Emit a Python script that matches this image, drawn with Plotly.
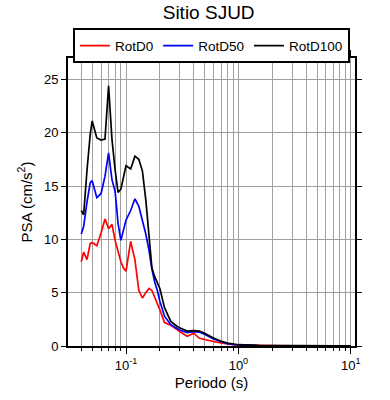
import plotly.graph_objects as go

periods = [0.04, 0.042, 0.045, 0.048, 0.05, 0.055, 0.06, 0.065, 0.07, 0.075,
           0.08, 0.085, 0.09, 0.095, 0.1, 0.11, 0.12, 0.13, 0.14, 0.15,
           0.16, 0.17, 0.18, 0.19, 0.2, 0.22, 0.25, 0.28, 0.3, 0.35,
           0.4, 0.45, 0.5, 0.6, 0.7, 0.8, 0.9, 1.0, 1.5, 2.0,
           3.0, 4.0, 5.0, 7.5, 10.0]

rotd0 = [7.9, 8.8, 8.1, 9.6, 9.7, 9.4, 10.6, 11.9, 11.0, 11.4,
         9.9, 8.8, 7.9, 7.3, 7.0, 9.8, 8.1, 5.2, 4.5, 5.0,
         5.4, 5.2, 4.6, 3.9, 3.4, 2.2, 1.95, 1.6, 1.35, 0.92,
         1.2, 0.72, 0.6, 0.42, 0.3, 0.18, 0.12, 0.08, 0.03, 0.02,
         0.012, 0.008, 0.006, 0.004, 0.003]

rotd50 = [10.5, 11.2, 13.5, 15.3, 15.5, 13.9, 14.3, 15.9, 18.1, 15.6,
          14.5, 11.5, 9.9, 11.0, 11.8, 12.7, 13.8, 13.1, 11.8, 10.5,
          9.0, 7.2, 6.0, 5.2, 4.2, 2.8, 2.0, 1.7, 1.5, 1.25,
          1.35, 1.3, 1.1, 0.65, 0.38, 0.22, 0.14, 0.1, 0.04, 0.025,
          0.015, 0.01, 0.008, 0.005, 0.003]

rotd100 = [12.7, 12.3, 16.5, 19.8, 21.1, 19.5, 19.3, 19.4, 24.4, 19.4,
           16.5, 14.4, 14.7, 15.8, 16.9, 16.6, 17.8, 17.5, 16.4, 13.7,
           10.2, 7.3, 6.5, 5.9, 5.4, 3.6, 2.3, 1.9, 1.7, 1.4,
           1.45, 1.4, 1.2, 0.75, 0.45, 0.28, 0.18, 0.12, 0.05, 0.03,
           0.018, 0.012, 0.009, 0.005, 0.003]

series = [("RotD0", rotd0, "#ff0000"),
          ("RotD50", rotd50, "#0000ff"),
          ("RotD100", rotd100, "#000000")]

xtick_vals = [0.1, 1, 10]
xtick_text = ["10<sup>-1</sup>", "10<sup>0</sup>", "10<sup>1</sup>"]
ytick_vals = [0, 5, 10, 15, 20, 25]

fig = go.Figure()
for name, vals, color in series:
    fig.add_trace(go.Scatter(x=periods, y=vals, mode="lines", name=name,
                             line=dict(color=color, width=1.7)))

font_family = "Liberation Sans, Arial, sans-serif"

fig.update_layout(
    width=390, height=400,
    margin=dict(l=68, r=35, t=58, b=54, autoexpand=False),
    paper_bgcolor="white", plot_bgcolor="white",
    font=dict(family=font_family, color="black", size=13),
    title=dict(text="Sitio SJUD", x=0.535, xanchor="center", y=0.985, yanchor="top",
               font=dict(size=19)),
    showlegend=True,
    legend=dict(orientation="h", x=0.017, xanchor="left", y=1.103, yanchor="top",
                bordercolor="black", borderwidth=2, bgcolor="white",
                font=dict(size=13.5), itemwidth=30, tracegroupgap=0),
)

fig.update_xaxes(
    type="log", range=[-1.516, 1.037], automargin=False,
    tickvals=xtick_vals, ticktext=xtick_text,
    ticks="outside", ticklen=6, tickwidth=1, tickcolor="black",
    showline=True, linecolor="black", linewidth=2, mirror="ticks",
    showgrid=True, gridcolor="#a0a0a0", gridwidth=1,
    minor=dict(ticks="outside", ticklen=3, tickcolor="black", showgrid=True,
               gridcolor="#a0a0a0", gridwidth=1, dtick="D1"),
    title=dict(text="Periodo (s)", font=dict(size=15), standoff=6),
    tickfont=dict(size=13), zeroline=False,
)

fig.update_yaxes(
    range=[0, 27], tickvals=ytick_vals, automargin=False,
    ticks="outside", ticklen=5, tickwidth=1, tickcolor="black",
    showline=True, linecolor="black", linewidth=2, mirror="ticks",
    showgrid=True, gridcolor="#a0a0a0", gridwidth=1,
    title=dict(text="PSA (cm/s<sup>2</sup>)", font=dict(size=15), standoff=8),
    tickfont=dict(size=13), zeroline=False,
)

fig.write_html("out.html", config={"displayModeBar": False},
               post_script="document.body.style.margin='0';")
